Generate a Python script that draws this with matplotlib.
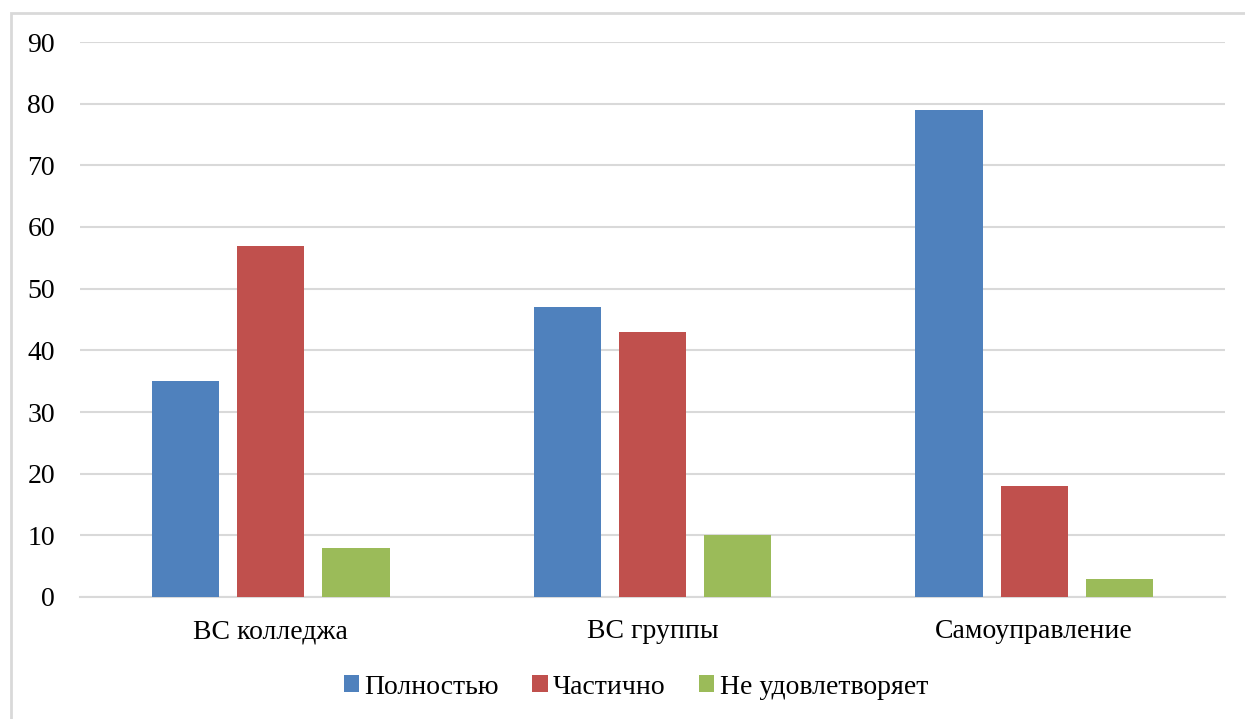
import numpy as np
import matplotlib.pyplot as plt
from matplotlib.patches import Rectangle

# данные
categories = ["ВС колледжа", "ВС группы", "Самоуправление"]
series_names = ["Полностью", "Частично", "Не удовлетворяет"]
full = [35, 47, 79]
partial = [57, 43, 18]
not_ok = [8, 10, 3]

colors = ["#4F81BD", "#C0504D", "#9BBB59"]

plt.rcParams['font.family'] = ['Liberation Serif', 'DejaVu Serif']

fig = plt.figure(figsize=(12.45, 7.19), dpi=100)
ax = fig.add_axes([80 / 1245, 1 - 597 / 719, 1145 / 1245, 555 / 719])

x = np.arange(len(categories))
w = 0.176
step = 0.223
for i, (vals, name) in enumerate(zip([full, partial, not_ok], series_names)):
    ax.bar(x + (i - 1) * step, vals, width=w, color=colors[i], label=name, zorder=3)

ax.set_xlim(-0.5, 2.5)
ax.set_ylim(0, 90)
ax.set_yticks(range(0, 91, 10))
ax.set_xticks(x)
ax.set_xticklabels(categories)
ax.yaxis.grid(True, color="#D9D9D9", linewidth=1.5, zorder=0)
for s in ["top", "right", "left"]:
    ax.spines[s].set_visible(False)
ax.spines["bottom"].set_color("#D9D9D9")
ax.spines["bottom"].set_linewidth(1.5)
ax.tick_params(axis="both", length=0, labelsize=20, colors="black")
ax.tick_params(axis="y", pad=18)
ax.tick_params(axis="x", pad=16)

ax.legend(loc="center", bbox_to_anchor=(636 / 1245, 1 - 687 / 719), bbox_transform=fig.transFigure,
          ncol=3, frameon=False, fontsize=20, handlelength=0.55, handleheight=0.55,
          handletextpad=0.2, columnspacing=1.2)

# рамка вокруг диаграммы
fig.patches.append(Rectangle((11 / 1245, -0.1), 1.1, 1.1 - 13 / 719, transform=fig.transFigure,
                             fill=False, edgecolor="#D9D9D9", linewidth=2))

fig.savefig("out.png", dpi=100)
